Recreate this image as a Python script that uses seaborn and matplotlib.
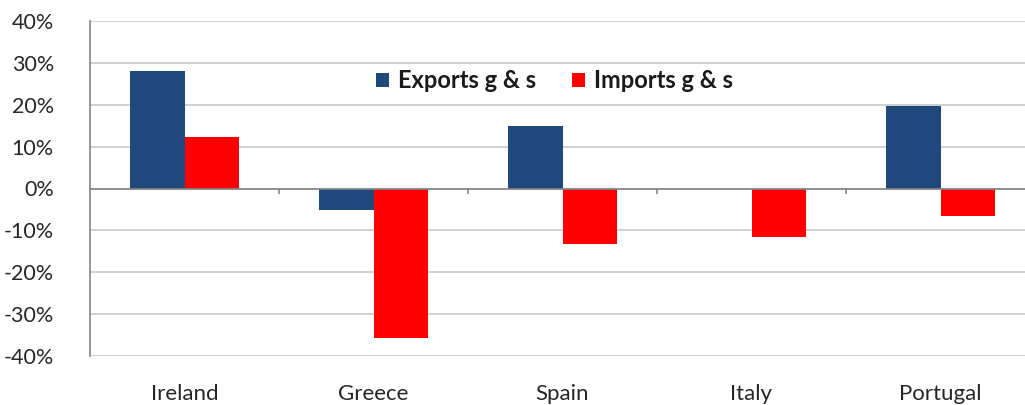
import numpy as np
import pandas as pd
import matplotlib
matplotlib.use('Agg')
import matplotlib.pyplot as plt
import seaborn as sns
from matplotlib.ticker import FuncFormatter, MultipleLocator

# Data (percent change)
countries = ['Ireland', 'Greece', 'Spain', 'Italy', 'Portugal']
exports = [28.0, -5.1, 14.9, 0.0, 19.8]
imports = [12.2, -35.7, -13.2, -11.7, -6.5]
series = ['Exports g & s', 'Imports g & s']
colors = ['#1f497d', '#ff0000']

df = pd.DataFrame({
    'Country': countries * 2,
    'Series': [series[0]] * len(countries) + [series[1]] * len(countries),
    'Value': exports + imports,
})

sns.set_style('white')
plt.rcParams['font.family'] = ['Lato', 'DejaVu Sans']

fig = plt.figure(figsize=(10.25, 4.05), dpi=100)
ax = fig.add_axes([90 / 1025, 49 / 405, 935 / 1025, 335 / 405])

sns.barplot(data=df, x='Country', y='Value', hue='Series', order=countries,
            hue_order=series, palette=colors, width=0.572, saturation=1,
            ax=ax, linewidth=0)

ax.set_ylim(-40, 40)
ax.set_xlim(-0.5, -0.5 + 935 / 189)
ax.yaxis.set_major_locator(MultipleLocator(10))
ax.yaxis.set_major_formatter(FuncFormatter(lambda v, p: f'{v:.0f}%'))
ax.grid(axis='y', color='#c8c8c8', linewidth=1.2)
ax.set_axisbelow(True)

for s in ['top', 'right', 'bottom']:
    ax.spines[s].set_visible(False)
ax.spines['left'].set_color('#868686')
ax.spines['left'].set_linewidth(1.2)

# zero line and category boundary ticks
ax.axhline(0, color='#868686', linewidth=1.2, zorder=1)
bounds = np.arange(1, len(countries) + 1) - 0.5
ax.vlines(bounds, -1.3, 0, color='#868686', linewidth=1.2, zorder=1)

ax.tick_params(axis='y', length=10, width=1.2, color='#868686', pad=16,
               labelsize=15.5, labelcolor='#262626')
ax.tick_params(axis='x', length=0, pad=20, labelsize=16, labelcolor='#262626')
ax.set_xlabel('')
ax.set_ylabel('')

leg = ax.legend(loc='center', bbox_to_anchor=(0.497, 0.822), ncol=2,
                frameon=False, handlelength=0.55, handleheight=0.55,
                handletextpad=0.4, columnspacing=1.5,
                prop={'weight': 'bold', 'size': 17})
for t in leg.get_texts():
    t.set_color('#1a1a1a')

fig.savefig('out.png', dpi=100)
